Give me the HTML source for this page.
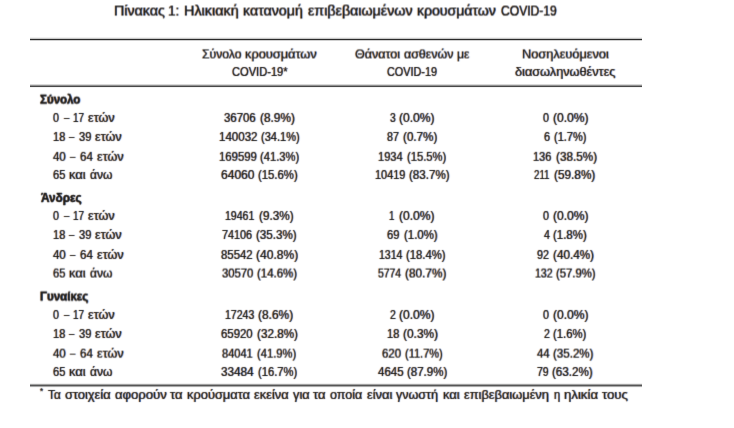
<!DOCTYPE html>
<html lang="el">
<head>
<meta charset="utf-8">
<title>Πίνακας 1: Ηλικιακή κατανομή επιβεβαιωμένων κρουσμάτων COVID-19</title>
<style>
html,body{margin:0;padding:0;background:#fff;}
body{width:734px;height:428px;position:relative;overflow:hidden;font-family:"Liberation Sans",sans-serif;color:#1a1a1a;font-size:12.65px;}
.c{position:absolute;height:20px;line-height:20px;white-space:pre;margin:0;font-weight:400;word-spacing:-0.2778em;}
.c span{display:inline-block;vertical-align:baseline;white-space:pre;word-spacing:0;transform-origin:0 50%;text-shadow:-0.6px 0 0.5px rgba(235,125,15,0.7),0.6px 0 0.5px rgba(15,100,235,0.7);-webkit-text-stroke:0.1px #1a1a1a;}
.title{font-size:14.06px;}
.title span{-webkit-text-stroke:0.2px #1a1a1a;}
.g{font-weight:700;}
.g span{-webkit-text-stroke:0.35px #1a1a1a;}
.v{font-size:12.4px;}
.fn{font-size:12.7px;}
.st{font-size:8.5px;}
.st span{-webkit-text-stroke:0.15px #1a1a1a;}
.r{position:absolute;}
.fm4{filter:url(#fm4);}
.fm3{filter:url(#fm3);}
.fm1{filter:url(#fm1);}
.f0{filter:url(#f0);}
.f4{filter:url(#f4);}
.f5{filter:url(#f5);}
</style>
</head>
<body>
<svg width="0" height="0" style="position:absolute" aria-hidden="true" focusable="false"><filter id="fm4" filterUnits="userSpaceOnUse" x="-8" y="-8" width="620" height="36" color-interpolation-filters="sRGB"><feConvolveMatrix order="3" kernelMatrix="0.042 0.336 0.042 0.052 0.416 0.052 0.006 0.048 0.006" edgeMode="none" preserveAlpha="false"/></filter><filter id="fm3" filterUnits="userSpaceOnUse" x="-8" y="-8" width="620" height="36" color-interpolation-filters="sRGB"><feConvolveMatrix order="3" kernelMatrix="0.034 0.272 0.034 0.059 0.472 0.059 0.007 0.056 0.007" edgeMode="none" preserveAlpha="false"/></filter><filter id="fm1" filterUnits="userSpaceOnUse" x="-8" y="-8" width="620" height="36" color-interpolation-filters="sRGB"><feConvolveMatrix order="3" kernelMatrix="0.018 0.144 0.018 0.073 0.584 0.073 0.009 0.072 0.009" edgeMode="none" preserveAlpha="false"/></filter><filter id="f0" filterUnits="userSpaceOnUse" x="-8" y="-8" width="620" height="36" color-interpolation-filters="sRGB"><feConvolveMatrix order="3" kernelMatrix="0.01 0.08 0.01 0.08 0.64 0.08 0.01 0.08 0.01" edgeMode="none" preserveAlpha="false"/></filter><filter id="f4" filterUnits="userSpaceOnUse" x="-8" y="-8" width="620" height="36" color-interpolation-filters="sRGB"><feConvolveMatrix order="3" kernelMatrix="0.006 0.048 0.006 0.052 0.416 0.052 0.042 0.336 0.042" edgeMode="none" preserveAlpha="false"/></filter><filter id="f5" filterUnits="userSpaceOnUse" x="-8" y="-8" width="620" height="36" color-interpolation-filters="sRGB"><feConvolveMatrix order="3" kernelMatrix="0.005 0.04 0.005 0.045 0.36 0.045 0.05 0.4 0.05" edgeMode="none" preserveAlpha="false"/></filter></svg>
<div class="r" style="left:30px;top:37px;width:612px;height:4px;background:linear-gradient(to bottom,#f0f0f0 0px,#f0f0f0 1px,#c8c8c8 1px,#c8c8c8 2px,#2a2a2a 2px,#2a2a2a 3px,#d0d0d0 3px,#d0d0d0 4px)"></div>
<div class="r" style="left:30px;top:84px;width:612px;height:4px;background:linear-gradient(to bottom,#d8d8d8 0px,#d8d8d8 1px,#909090 1px,#909090 2px,#484848 2px,#484848 3px,#f2f2f2 3px,#f2f2f2 4px)"></div>
<div class="r" style="left:30px;top:383px;width:612px;height:5px;background:linear-gradient(to bottom,#f0f0f0 0px,#f0f0f0 1px,#a0a0a0 1px,#a0a0a0 2px,#555 2px,#555 3px,#a8a8a8 3px,#a8a8a8 4px,#f8f8f8 4px,#f8f8f8 5px)"></div>
<h1 class="c title fm4" style="left:113px;top:1px"><span style="margin-left:1.11px;transform:scaleX(1.0145)">Πίνακας</span> <span style="margin-left:3.38px;transform:scaleX(0.9644)">1:</span> <span style="margin-left:4.55px;transform:scaleX(1.0242)">Ηλικιακή</span> <span style="margin-left:5.73px;transform:scaleX(1.0110)">κατανομή</span> <span style="margin-left:5.71px;transform:scaleX(1.0141)">επιβεβαιωμένων</span> <span style="margin-left:6.14px;transform:scaleX(1.0013)">κρουσμάτων</span> <span style="margin-left:4.68px;transform:scaleX(0.8615)">COVID-19</span></h1>
<div class="c h f4" style="left:200px;top:44px"><span style="margin-left:1.74px;transform:scaleX(0.9614)">Σύνολο</span> <span style="margin-left:2.60px;transform:scaleX(1.0128)">κρουσμάτων</span></div>
<div class="c h f0" style="left:229px;top:62px"><span style="margin-left:2.53px;transform:scaleX(0.8787)">COVID-19*</span></div>
<div class="c h f4" style="left:352px;top:44px"><span style="margin-left:2.66px;transform:scaleX(0.9896)">Θάνατοι</span> <span style="margin-left:3.95px;transform:scaleX(0.9837)">ασθενών</span> <span style="margin-left:3.13px;transform:scaleX(0.9653)">με</span></div>
<div class="c h f0" style="left:385px;top:62px"><span style="margin-left:2.23px;transform:scaleX(0.8566)">COVID-19</span></div>
<div class="c h f4" style="left:520px;top:44px"><span style="margin-left:1.64px;transform:scaleX(1.0095)">Νοσηλευόμενοι</span></div>
<div class="c h f0" style="left:513px;top:62px"><span style="margin-left:2.00px;transform:scaleX(1.0060)">διασωληνωθέντες</span></div>
<div class="c g fm3" style="left:37px;top:90px"><span style="margin-left:2.74px;transform:scaleX(0.9123)">Σύνολο</span></div>
<div class="c l f0" style="left:51px;top:108px"><span style="margin-left:2.28px;transform:scaleX(0.8463)">0</span> <span style="margin-left:3.45px;transform:scaleX(0.7508)">–</span> <span style="margin-left:2.23px;transform:scaleX(0.7804)">17</span> <span style="margin-left:0.99px;transform:scaleX(1.0020)">ετών</span></div>
<div class="c v f0" style="left:222px;top:108px"><span style="margin-left:2.18px;transform:scaleX(0.9194)">36706</span> <span style="margin-left:0.90px;transform:scaleX(0.9549)">(8.9%)</span></div>
<div class="c v f0" style="left:387px;top:108px"><span style="margin-left:2.63px;transform:scaleX(0.8299)">3</span> <span style="margin-left:2.72px;transform:scaleX(0.9740)">(0.0%)</span></div>
<div class="c v f0" style="left:540px;top:108px"><span style="margin-left:2.65px;transform:scaleX(0.8634)">0</span> <span style="margin-left:2.98px;transform:scaleX(0.9740)">(0.0%)</span></div>
<div class="c l f0" style="left:51px;top:127px"><span style="margin-left:1.58px;transform:scaleX(0.8718)">18</span> <span style="margin-left:2.51px;transform:scaleX(0.7508)">–</span> <span style="margin-left:2.33px;transform:scaleX(0.8801)">39</span> <span style="margin-left:2.60px;transform:scaleX(1.0020)">ετών</span></div>
<div class="c v f0" style="left:217px;top:127px"><span style="margin-left:1.70px;transform:scaleX(0.9297)">140032</span> <span style="margin-left:0.91px;transform:scaleX(0.8908)">(34.1%)</span></div>
<div class="c v f0" style="left:385px;top:127px"><span style="margin-left:2.49px;transform:scaleX(0.8614)">87</span> <span style="margin-left:1.62px;transform:scaleX(0.9408)">(0.7%)</span></div>
<div class="c v f0" style="left:542px;top:127px"><span style="margin-left:2.14px;transform:scaleX(0.8786)">6</span> <span style="margin-left:2.89px;transform:scaleX(0.8885)">(1.7%)</span></div>
<div class="c l fm1" style="left:51px;top:147px"><span style="margin-left:2.24px;transform:scaleX(0.9066)">40</span> <span style="margin-left:3.18px;transform:scaleX(0.7508)">–</span> <span style="margin-left:2.65px;transform:scaleX(0.9106)">64</span> <span style="margin-left:2.97px;transform:scaleX(1.0020)">ετών</span></div>
<div class="c v fm1" style="left:217px;top:147px"><span style="margin-left:1.70px;transform:scaleX(0.9160)">169599</span> <span style="margin-left:0.35px;transform:scaleX(0.9047)">(41.3%)</span></div>
<div class="c v fm1" style="left:376px;top:147px"><span style="margin-left:2.23px;transform:scaleX(0.8948)">1934</span> <span style="margin-left:0.84px;transform:scaleX(0.9047)">(15.5%)</span></div>
<div class="c v fm1" style="left:532px;top:147px"><span style="margin-left:1.45px;transform:scaleX(0.8888)">136</span> <span style="margin-left:1.40px;transform:scaleX(0.9457)">(38.5%)</span></div>
<div class="c l f0" style="left:51px;top:165px"><span style="margin-left:2.10px;transform:scaleX(0.8750)">65</span> <span style="margin-left:2.28px;transform:scaleX(1.0214)">και</span> <span style="margin-left:4.74px;transform:scaleX(0.9513)">άνω</span></div>
<div class="c v f0" style="left:219px;top:165px"><span style="margin-left:1.89px;transform:scaleX(0.9717)">64060</span> <span style="margin-left:2.96px;transform:scaleX(0.9143)">(15.6%)</span></div>
<div class="c v f0" style="left:373px;top:165px"><span style="margin-left:1.73px;transform:scaleX(0.8816)">10419</span> <span style="margin-left:-0.28px;transform:scaleX(0.9345)">(83.7%)</span></div>
<div class="c v f0" style="left:532px;top:165px"><span style="margin-left:2.42px;transform:scaleX(0.7828)">211</span> <span style="margin-left:0.29px;transform:scaleX(0.9520)">(59.8%)</span></div>
<div class="c g f0" style="left:38px;top:188px"><span style="margin-left:2.74px;transform:scaleX(0.9295)">Άνδρες</span></div>
<div class="c l f0" style="left:51px;top:206px"><span style="margin-left:2.28px;transform:scaleX(0.8463)">0</span> <span style="margin-left:3.45px;transform:scaleX(0.7508)">–</span> <span style="margin-left:2.23px;transform:scaleX(0.7804)">17</span> <span style="margin-left:0.99px;transform:scaleX(1.0020)">ετών</span></div>
<div class="c v f0" style="left:223px;top:206px"><span style="margin-left:2.00px;transform:scaleX(0.8494)">19461</span> <span style="margin-left:-0.65px;transform:scaleX(0.9484)">(9.3%)</span></div>
<div class="c v f0" style="left:388px;top:206px"><span style="margin-left:1.42px;transform:scaleX(0.7800)">1</span> <span style="margin-left:2.51px;transform:scaleX(0.9740)">(0.0%)</span></div>
<div class="c v f0" style="left:540px;top:206px"><span style="margin-left:2.65px;transform:scaleX(0.8634)">0</span> <span style="margin-left:2.98px;transform:scaleX(0.9740)">(0.0%)</span></div>
<div class="c l f0" style="left:51px;top:225px"><span style="margin-left:1.58px;transform:scaleX(0.8718)">18</span> <span style="margin-left:2.51px;transform:scaleX(0.7508)">–</span> <span style="margin-left:2.33px;transform:scaleX(0.8801)">39</span> <span style="margin-left:2.60px;transform:scaleX(1.0020)">ετών</span></div>
<div class="c v f0" style="left:220px;top:225px"><span style="margin-left:2.08px;transform:scaleX(0.8722)">74106</span> <span style="margin-left:-0.70px;transform:scaleX(0.9357)">(35.3%)</span></div>
<div class="c v f0" style="left:385px;top:225px"><span style="margin-left:2.41px;transform:scaleX(0.9020)">69</span> <span style="margin-left:2.44px;transform:scaleX(0.9217)">(1.0%)</span></div>
<div class="c v f0" style="left:541px;top:225px"><span style="margin-left:2.67px;transform:scaleX(0.8511)">4</span> <span style="margin-left:2.70px;transform:scaleX(0.9235)">(1.8%)</span></div>
<div class="c l f0" style="left:51px;top:245px"><span style="margin-left:2.24px;transform:scaleX(0.9066)">40</span> <span style="margin-left:3.18px;transform:scaleX(0.7508)">–</span> <span style="margin-left:2.65px;transform:scaleX(0.9106)">64</span> <span style="margin-left:2.97px;transform:scaleX(1.0020)">ετών</span></div>
<div class="c v f0" style="left:218px;top:245px"><span style="margin-left:2.68px;transform:scaleX(0.9164)">85542</span> <span style="margin-left:0.88px;transform:scaleX(0.9728)">(40.8%)</span></div>
<div class="c v f0" style="left:377px;top:245px"><span style="margin-left:1.75px;transform:scaleX(0.8506)">1314</span> <span style="margin-left:-0.38px;transform:scaleX(0.9101)">(18.4%)</span></div>
<div class="c v f0" style="left:535px;top:245px"><span style="margin-left:1.89px;transform:scaleX(0.8626)">92</span> <span style="margin-left:1.90px;transform:scaleX(0.9451)">(40.4%)</span></div>
<div class="c l f5" style="left:51px;top:263px"><span style="margin-left:2.10px;transform:scaleX(0.8750)">65</span> <span style="margin-left:2.28px;transform:scaleX(1.0214)">και</span> <span style="margin-left:4.74px;transform:scaleX(0.9513)">άνω</span></div>
<div class="c v f5" style="left:219px;top:263px"><span style="margin-left:2.58px;transform:scaleX(0.9098)">30570</span> <span style="margin-left:0.84px;transform:scaleX(0.9237)">(14.6%)</span></div>
<div class="c v f5" style="left:376px;top:263px"><span style="margin-left:2.21px;transform:scaleX(0.8344)">5774</span> <span style="margin-left:-0.85px;transform:scaleX(0.9523)">(80.7%)</span></div>
<div class="c v f5" style="left:533px;top:263px"><span style="margin-left:1.54px;transform:scaleX(0.8521)">132</span> <span style="margin-left:0.78px;transform:scaleX(0.9095)">(57.9%)</span></div>
<div class="c g fm4" style="left:38px;top:287px"><span style="margin-left:2.04px;transform:scaleX(0.9146)">Γυναίκες</span></div>
<div class="c l f0" style="left:51px;top:305px"><span style="margin-left:2.28px;transform:scaleX(0.8463)">0</span> <span style="margin-left:3.45px;transform:scaleX(0.7508)">–</span> <span style="margin-left:2.23px;transform:scaleX(0.7804)">17</span> <span style="margin-left:0.99px;transform:scaleX(1.0020)">ετών</span></div>
<div class="c v f0" style="left:223px;top:305px"><span style="margin-left:2.07px;transform:scaleX(0.8482)">17243</span> <span style="margin-left:-1.33px;transform:scaleX(0.9632)">(8.6%)</span></div>
<div class="c v f0" style="left:387px;top:305px"><span style="margin-left:2.62px;transform:scaleX(0.8438)">2</span> <span style="margin-left:2.71px;transform:scaleX(0.9740)">(0.0%)</span></div>
<div class="c v f0" style="left:540px;top:305px"><span style="margin-left:2.65px;transform:scaleX(0.8634)">0</span> <span style="margin-left:2.98px;transform:scaleX(0.9740)">(0.0%)</span></div>
<div class="c l f0" style="left:51px;top:324px"><span style="margin-left:1.58px;transform:scaleX(0.8718)">18</span> <span style="margin-left:2.51px;transform:scaleX(0.7508)">–</span> <span style="margin-left:2.33px;transform:scaleX(0.8801)">39</span> <span style="margin-left:2.60px;transform:scaleX(1.0020)">ετών</span></div>
<div class="c v f0" style="left:219px;top:324px"><span style="margin-left:2.20px;transform:scaleX(0.9171)">65920</span> <span style="margin-left:1.07px;transform:scaleX(0.9439)">(32.8%)</span></div>
<div class="c v f0" style="left:385px;top:324px"><span style="margin-left:1.60px;transform:scaleX(0.8894)">18</span> <span style="margin-left:2.18px;transform:scaleX(0.9603)">(0.3%)</span></div>
<div class="c v f0" style="left:541px;top:324px"><span style="margin-left:2.58px;transform:scaleX(0.8438)">2</span> <span style="margin-left:2.75px;transform:scaleX(0.9134)">(1.6%)</span></div>
<div class="c l fm3" style="left:51px;top:344px"><span style="margin-left:2.24px;transform:scaleX(0.9066)">40</span> <span style="margin-left:3.18px;transform:scaleX(0.7508)">–</span> <span style="margin-left:2.65px;transform:scaleX(0.9106)">64</span> <span style="margin-left:2.97px;transform:scaleX(1.0020)">ετών</span></div>
<div class="c v fm3" style="left:220px;top:344px"><span style="margin-left:2.21px;transform:scaleX(0.8918)">84041</span> <span style="margin-left:0.82px;transform:scaleX(0.9023)">(41.9%)</span></div>
<div class="c v fm3" style="left:380px;top:344px"><span style="margin-left:1.97px;transform:scaleX(0.9197)">620</span> <span style="margin-left:2.30px;transform:scaleX(0.8883)">(11.7%)</span></div>
<div class="c v fm3" style="left:534px;top:344px"><span style="margin-left:2.93px;transform:scaleX(0.9162)">44</span> <span style="margin-left:2.56px;transform:scaleX(0.9318)">(35.2%)</span></div>
<div class="c l f0" style="left:51px;top:362px"><span style="margin-left:2.10px;transform:scaleX(0.8750)">65</span> <span style="margin-left:2.28px;transform:scaleX(1.0214)">και</span> <span style="margin-left:4.74px;transform:scaleX(0.9513)">άνω</span></div>
<div class="c v f0" style="left:219px;top:362px"><span style="margin-left:2.46px;transform:scaleX(0.9477)">33484</span> <span style="margin-left:1.94px;transform:scaleX(0.9032)">(16.7%)</span></div>
<div class="c v f0" style="left:375px;top:362px"><span style="margin-left:2.64px;transform:scaleX(0.9277)">4645</span> <span style="margin-left:1.74px;transform:scaleX(0.9273)">(87.9%)</span></div>
<div class="c v f0" style="left:535px;top:362px"><span style="margin-left:2.03px;transform:scaleX(0.8398)">79</span> <span style="margin-left:1.60px;transform:scaleX(0.9385)">(63.2%)</span></div>
<div class="c st f0" style="left:38px;top:381px"><span style="margin-left:2.31px;transform:scaleX(0.9477)">*</span></div>
<div class="c fn f0" style="left:46px;top:385px"><span style="margin-left:2.21px;transform:scaleX(0.9279)">Τα</span> <span style="margin-left:3.28px;transform:scaleX(1.0138)">στοιχεία</span> <span style="margin-left:4.88px;transform:scaleX(1.0322)">αφορούν</span> <span style="margin-left:4.96px;transform:scaleX(1.0302)">τα</span> <span style="margin-left:4.55px;transform:scaleX(1.0130)">κρούσματα</span> <span style="margin-left:5.23px;transform:scaleX(1.0137)">εκείνα</span> <span style="margin-left:4.49px;transform:scaleX(1.0056)">για</span> <span style="margin-left:3.96px;transform:scaleX(1.0302)">τα</span> <span style="margin-left:4.63px;transform:scaleX(0.9864)">οποία</span> <span style="margin-left:3.95px;transform:scaleX(1.0170)">είναι</span> <span style="margin-left:4.56px;transform:scaleX(0.9889)">γνωστή</span> <span style="margin-left:3.88px;transform:scaleX(1.0205)">και</span> <span style="margin-left:4.85px;transform:scaleX(1.0122)">επιβεβαιωμένη</span> <span style="margin-left:5.69px;transform:scaleX(0.8769)">η</span> <span style="margin-left:3.72px;transform:scaleX(1.0394)">ηλικία</span> <span style="margin-left:5.17px;transform:scaleX(1.0382)">τους</span></div>
</body>
</html>
